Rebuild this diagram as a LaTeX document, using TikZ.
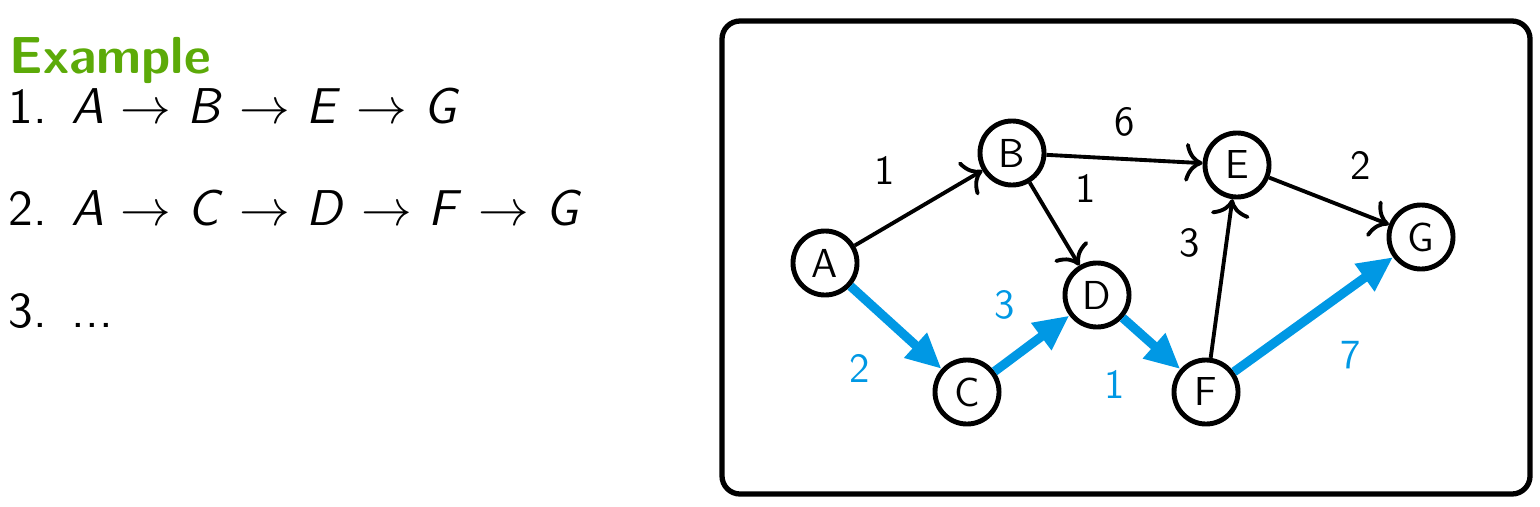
\documentclass[tikz,border=0pt]{standalone}
\usepackage{fontspec}
\usetikzlibrary{arrows.meta, positioning}
\definecolor{examplegreen}{RGB}{92,170,8}
\definecolor{pathblue}{RGB}{0,152,228}

\begin{document}
\begin{tikzpicture}[
  x=0.01cm, y=-0.01cm,
  font=\sffamily\fontsize{11.5}{13}\selectfont,
  vertex/.style={circle, draw=black, line width=1.4pt, minimum size=0.64cm,
                 inner sep=0pt, fill=white},
  frame/.style={draw=black, line width=1.5pt, rounded corners=0.18cm},
  edge/.style={-{To[length=5pt,width=11pt]}, line width=1.1pt, black},
  bedge/.style={-{Triangle[length=10pt,width=9pt]}, line width=2.6pt, pathblue},
  wlbl/.style={font=\sffamily\fontsize{11.8}{13}\selectfont, inner sep=2pt},
  blbl/.style={wlbl, text=pathblue},
  item/.style={anchor=base west, inner sep=0pt,
               font=\sffamily\fontsize{14.3}{16}\selectfont}
]
\useasboundingbox (0,0) rectangle (1540,506);

% ── Left: list of paths ──
\node[item, text=examplegreen, font=\sffamily\bfseries\fontsize{14.8}{16}\selectfont]
  (title) at (9,73) {Example};
\node[item] (p1) at (8,123)
  {1.\ \,\textit{A} $\to$ \textit{B} $\to$ \textit{E} $\to$ \textit{G}};
\node[item] (p2) at (8,225)
  {2.\ \,\textit{A} $\to$ \textit{C} $\to$ \textit{D} $\to$ \textit{F} $\to$ \textit{G}};
\node[item] (p3) at (8,327) {3.\ \,...};

% ── Right: graph in a frame ──
\draw[frame] (722,21) rectangle (1530,494);

\node[vertex] (A) at (825,263) {A};
\node[vertex] (B) at (1012,153) {B};
\node[vertex] (C) at (967,392) {C};
\node[vertex] (D) at (1097,295) {D};
\node[vertex] (E) at (1237,165) {E};
\node[vertex] (F) at (1206,392) {F};
\node[vertex] (G) at (1421,237) {G};

% ── Black edges ──
\draw[edge] (A) -- node[wlbl, above left=6pt] (wAB) {1} (B);
\draw[edge] (B) -- node[wlbl, above=4pt] (wBE) {6} (E);
\draw[edge] (B) -- node[wlbl, above right=5pt] (wBD) {1} (D);
\draw[edge] (E) -- node[wlbl, above right=5pt] (wEG) {2} (G);
\draw[edge] (F) -- node[wlbl, above left=5pt] (wFE) {3} (E);

% ── Blue edges: shortest path ──
\draw[bedge] (A) -- node[blbl, below left=6pt] (wAC) {2} (C);
\draw[bedge] (C) -- node[blbl, above left=5pt, xshift=2pt] (wCD) {3} (D);
\draw[bedge] (D) -- node[blbl, below left=6pt] (wDF) {1} (F);
\draw[bedge] (F) -- node[blbl, below right=6pt] (wFG) {7} (G);

\end{tikzpicture}
\end{document}
